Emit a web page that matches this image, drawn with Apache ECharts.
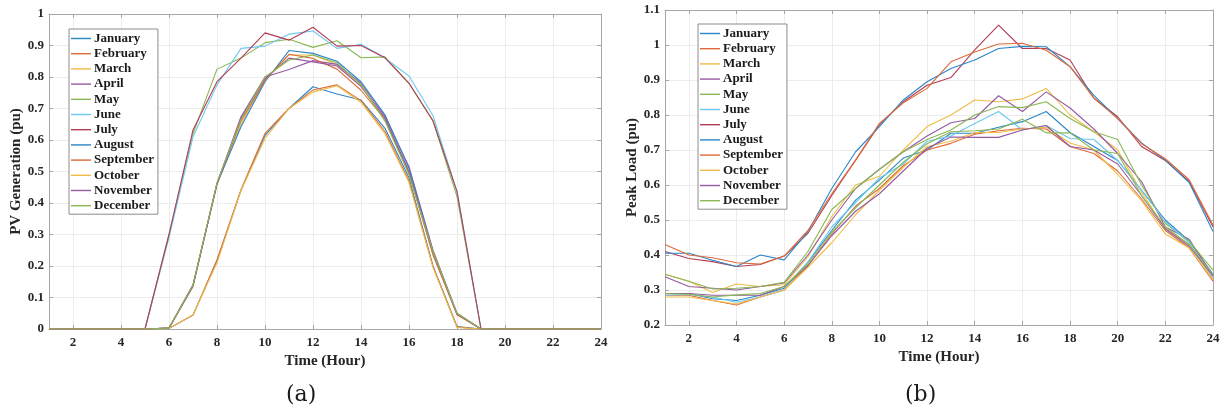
<!DOCTYPE html>
<html>
<head>
<meta charset="utf-8">
<script src="https://cdn.jsdelivr.net/npm/echarts@6/dist/echarts.min.js"></script>
<style>
html,body{margin:0;padding:0;background:#fff;}
#c{width:1225px;height:416px;}
</style>
</head>
<body>
<div id="c"></div>
<script>
// ---------- data ----------
const hours = [1,2,3,4,5,6,7,8,9,10,11,12,13,14,15,16,17,18,19,20,21,22,23,24];
const months = ['January','February','March','April','May','June','July','August','September','October','November','December'];
const xTicks = [2,4,6,8,10,12,14,16,18,20,22,24];

// (a) PV generation (pu)
const pvJan = [0,0,0,0,0,0.002,0.044,0.215,0.44,0.615,0.70,0.769,0.746,0.727,0.637,0.48,0.20,0.008,0,0,0,0,0,0];
const pvFeb = [0,0,0,0,0,0.002,0.044,0.22,0.442,0.621,0.70,0.759,0.775,0.725,0.627,0.47,0.198,0.006,0,0,0,0,0,0];
const pvMar = [0,0,0,0,0,0.002,0.135,0.46,0.65,0.79,0.87,0.87,0.84,0.77,0.665,0.495,0.24,0.046,0,0,0,0,0,0];
const pvApr = [0,0,0,0,0,0.003,0.135,0.462,0.674,0.80,0.824,0.852,0.84,0.78,0.675,0.515,0.25,0.05,0,0,0,0,0,0];
const pvMay = [0,0,0,0,0,0.30,0.62,0.825,0.86,0.909,0.92,0.894,0.915,0.861,0.864,0.78,0.66,0.42,0,0,0,0,0,0];
const pvJun = [0,0,0,0,0,0.29,0.61,0.775,0.891,0.898,0.936,0.946,0.891,0.904,0.86,0.803,0.677,0.436,0,0,0,0,0,0];
const pvJul = [0,0,0,0,0,0.30,0.632,0.785,0.86,0.94,0.917,0.958,0.898,0.90,0.861,0.78,0.661,0.436,0,0,0,0,0,0];
const pvAug = [0,0,0,0,0,0.003,0.14,0.46,0.642,0.785,0.884,0.875,0.85,0.785,0.68,0.51,0.245,0.048,0,0,0,0,0,0];
const pvSep = [0,0,0,0,0,0.003,0.138,0.462,0.66,0.79,0.872,0.859,0.825,0.758,0.665,0.495,0.235,0.045,0,0,0,0,0,0];
const pvOct = [0,0,0,0,0,0.002,0.045,0.21,0.44,0.605,0.70,0.752,0.772,0.72,0.62,0.465,0.195,0.005,0,0,0,0,0,0];
const pvNov = [0,0,0,0,0,0.003,0.14,0.46,0.67,0.795,0.86,0.848,0.835,0.77,0.67,0.50,0.245,0.048,0,0,0,0,0,0];
const pvDec = [0,0,0,0,0,0.003,0.14,0.465,0.665,0.80,0.854,0.87,0.845,0.775,0.66,0.49,0.245,0.05,0,0,0,0,0,0];

// (b) Peak load (pu)
const ldJan = [0.29,0.29,0.275,0.27,0.285,0.305,0.38,0.47,0.557,0.614,0.677,0.70,0.748,0.748,0.765,0.781,0.81,0.75,0.71,0.67,0.585,0.50,0.44,0.345];
const ldFeb = [0.285,0.285,0.27,0.257,0.28,0.30,0.37,0.46,0.54,0.59,0.655,0.70,0.719,0.745,0.755,0.762,0.76,0.71,0.69,0.64,0.56,0.47,0.42,0.325];
const ldMar = [0.345,0.325,0.293,0.317,0.31,0.315,0.395,0.51,0.60,0.625,0.70,0.767,0.80,0.843,0.838,0.846,0.876,0.80,0.752,0.70,0.58,0.475,0.43,0.33];
const ldApr = [0.338,0.31,0.305,0.30,0.31,0.32,0.40,0.50,0.59,0.645,0.695,0.74,0.778,0.79,0.855,0.81,0.866,0.82,0.76,0.69,0.61,0.48,0.445,0.34];
const ldMay = [0.345,0.325,0.303,0.305,0.31,0.322,0.41,0.53,0.59,0.645,0.695,0.73,0.757,0.80,0.824,0.821,0.838,0.79,0.752,0.73,0.60,0.49,0.44,0.357];
const ldJun = [0.285,0.287,0.28,0.265,0.28,0.30,0.38,0.48,0.55,0.62,0.66,0.725,0.74,0.776,0.81,0.757,0.77,0.733,0.73,0.67,0.585,0.495,0.435,0.335];
const ldJul = [0.41,0.39,0.381,0.367,0.373,0.397,0.462,0.57,0.671,0.772,0.838,0.885,0.907,0.986,1.057,0.99,0.99,0.957,0.848,0.795,0.71,0.67,0.61,0.48];
const ldAug = [0.405,0.405,0.385,0.367,0.40,0.386,0.467,0.59,0.695,0.767,0.843,0.895,0.933,0.957,0.99,0.996,0.995,0.938,0.856,0.79,0.72,0.671,0.607,0.467];
const ldSep = [0.43,0.40,0.392,0.378,0.374,0.397,0.47,0.575,0.671,0.776,0.835,0.876,0.952,0.98,1.003,1.005,0.985,0.938,0.848,0.79,0.718,0.675,0.615,0.486];
const ldOct = [0.28,0.28,0.27,0.26,0.28,0.30,0.365,0.435,0.515,0.585,0.65,0.71,0.725,0.75,0.75,0.76,0.765,0.72,0.70,0.63,0.555,0.46,0.42,0.33];
const ldNov = [0.29,0.29,0.285,0.285,0.285,0.31,0.37,0.455,0.525,0.575,0.64,0.705,0.737,0.736,0.736,0.757,0.77,0.71,0.70,0.66,0.57,0.475,0.425,0.34];
const ldDec = [0.29,0.288,0.28,0.286,0.29,0.31,0.375,0.465,0.535,0.60,0.665,0.718,0.752,0.755,0.76,0.788,0.749,0.749,0.70,0.69,0.57,0.48,0.43,0.345];

const pvSeries = [pvJan,pvFeb,pvMar,pvApr,pvMay,pvJun,pvJul,pvAug,pvSep,pvOct,pvNov,pvDec];
const ldSeries = [ldJan,ldFeb,ldMar,ldApr,ldMay,ldJun,ldJul,ldAug,ldSep,ldOct,ldNov,ldDec];

// ---------- styling ----------
const colors = ['#2b86c8','#dd6a3a','#efbd45','#955aa3','#8ab853','#6cc8ef','#b33d55'];
const FONT = '"Liberation Serif","Times New Roman",serif';
const frame = '#a6a6a6';
const gridLine = '#ececec';

function pairs(arr){ return hours.map((h,i)=>[h,arr[i]]); }

function xAx(gi, pos, labels){
  return {
    type:'value', gridIndex:gi, position:pos, min:1, max:24,
    axisLine:{show:true,onZero:false,lineStyle:{color:frame,width:1}},
    axisTick:{show:true,inside:true,length:4,customValues:xTicks,lineStyle:{color:frame}},
    axisLabel:{show:labels,customValues:xTicks,color:'#262626',fontFamily:FONT,fontWeight:'bold',fontSize:13,margin:7},
    splitLine:{show:labels,lineStyle:{color:gridLine,width:1}},
    name: labels ? 'Time (Hour)' : '',
    nameLocation:'middle', nameGap:25,
    nameTextStyle:{color:'#262626',fontFamily:FONT,fontWeight:'bold',fontSize:15}
  };
}
function yAx(gi, pos, labels, min, max, name, gap){
  return {
    type:'value', gridIndex:gi, position:pos, min:min, max:max, interval:0.1,
    axisLine:{show:true,onZero:false,lineStyle:{color:frame,width:1}},
    axisTick:{show:true,inside:true,length:4,lineStyle:{color:frame}},
    axisLabel:{show:labels,color:'#262626',fontFamily:FONT,fontWeight:'bold',fontSize:13,margin:5,
      formatter:v=>String(Math.round(v*10)/10)},
    splitLine:{show:labels,lineStyle:{color:gridLine,width:1}},
    name: labels ? name : '',
    nameLocation:'middle', nameGap:gap, nameRotate:90,
    nameTextStyle:{color:'#262626',fontFamily:FONT,fontWeight:'bold',fontSize:15}
  };
}

const series = [];
months.forEach((m,i)=>{
  series.push({name:m,type:'line',xAxisIndex:0,yAxisIndex:0,data:pairs(pvSeries[i]),
    symbol:'none',color:colors[i%7],lineStyle:{width:1.1},z:2+i});
});
months.forEach((m,i)=>{
  series.push({name:m,type:'line',xAxisIndex:2,yAxisIndex:2,data:pairs(ldSeries[i]),
    symbol:'none',color:colors[i%7],lineStyle:{width:1.1},z:2+i});
});

function legend(left, top){
  return {
    data:months, orient:'vertical', left:left, top:top,
    backgroundColor:'#fff', borderColor:'#8c8c8c', borderWidth:1,
    padding:[3,4,2,2], itemGap:2.2, itemWidth:20, itemHeight:1.4, icon:'rect',
    textStyle:{fontFamily:FONT,fontWeight:'bold',fontSize:13,lineHeight:13,color:'#1a1a1a',padding:[0,0,0,-2]},
    selectedMode:false
  };
}

const option = {
  animation:false,
  backgroundColor:'#fff',
  grid:[
    {left:49, right:624, top:14, bottom:87},
    {left:665, right:12, top:10, bottom:91}
  ],
  xAxis:[ xAx(0,'bottom',true), xAx(0,'top',false), xAx(1,'bottom',true), xAx(1,'top',false) ],
  yAxis:[ yAx(0,'left',true,0,1,'PV Generation (pu)',23), yAx(0,'right',false,0,1,'',0),
          yAx(1,'left',true,0.2,1.1,'Peak Load (pu)',24), yAx(1,'right',false,0.2,1.1,'',0) ],
  legend:[ legend(69,29), legend(698,24) ],
  series:series,
  graphic:[
    {type:'text',left:286,top:384,style:{text:'(a)',font:'22px "DejaVu Serif","Liberation Serif",serif',fill:'#1a1a1a'}},
    {type:'text',left:905,top:384,style:{text:'(b)',font:'22px "DejaVu Serif","Liberation Serif",serif',fill:'#1a1a1a'}}
  ]
};

const chart = echarts.init(document.getElementById('c'), null, {renderer:'canvas'});
chart.setOption(option);
</script>
</body>
</html>
